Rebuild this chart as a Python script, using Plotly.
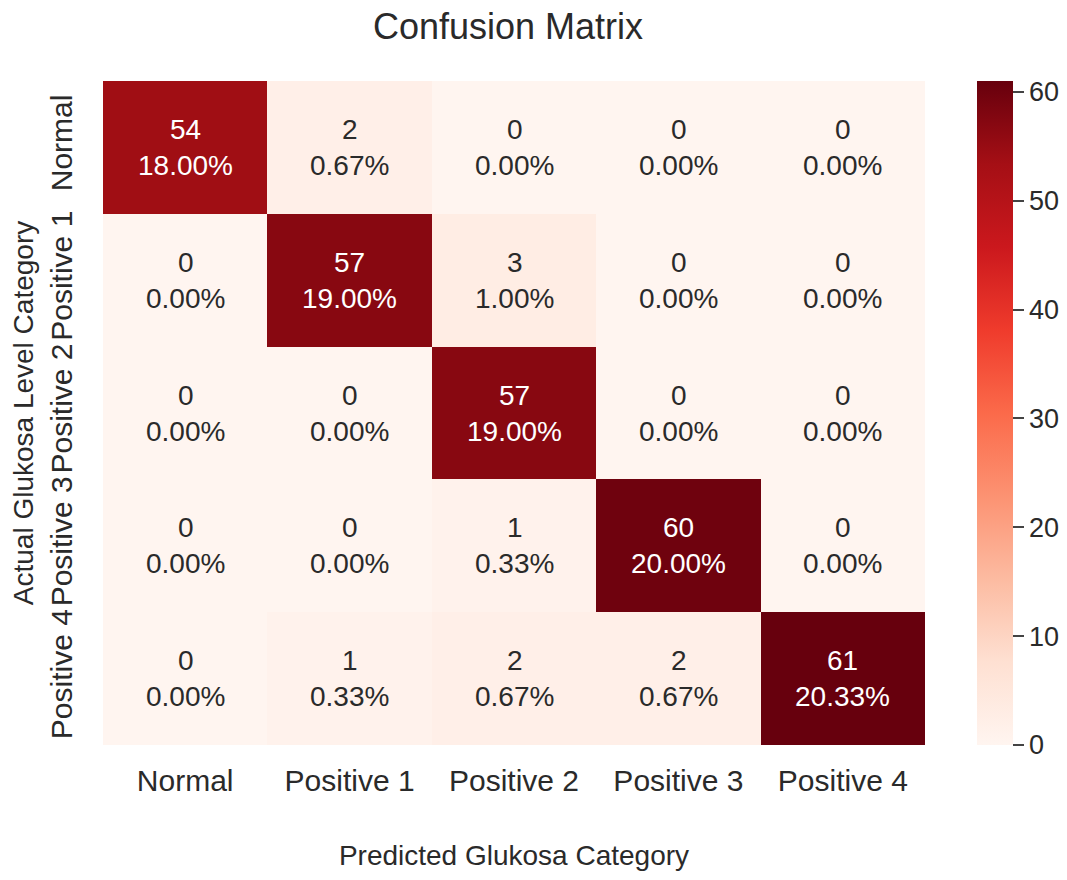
import plotly.graph_objects as go

categories = ["Normal", "Positive 1", "Positive 2", "Positive 3", "Positive 4"]
counts = [
    [54, 2, 0, 0, 0],
    [0, 57, 3, 0, 0],
    [0, 0, 57, 0, 0],
    [0, 0, 1, 60, 0],
    [0, 1, 2, 2, 61],
]
cbar_ticks = [0, 10, 20, 30, 40, 50, 60]

total = sum(sum(r) for r in counts)
reds = [
    [0.0, "rgb(255,245,240)"], [0.125, "rgb(254,224,210)"], [0.25, "rgb(252,187,161)"],
    [0.375, "rgb(252,146,114)"], [0.5, "rgb(251,106,74)"], [0.625, "rgb(239,59,44)"],
    [0.75, "rgb(203,24,29)"], [0.875, "rgb(165,15,21)"], [1.0, "rgb(103,0,13)"],
]
zmax = max(max(r) for r in counts)

W, H = 1067, 880
ML, MR, MT, MB = 95, 150, 73, 143
FONT = "Liberation Sans, Arial, sans-serif"
TXT = "#2a2a2a"
fig = go.Figure(go.Heatmap(
    z=counts, x=categories, y=categories, colorscale=reds, zmin=0, zmax=zmax,
    xgap=0, ygap=0,
    colorbar=dict(thickness=36, len=1.0, lenmode="fraction", y=0.5, yanchor="middle",
                  x=(969 - ML) / (W - ML - MR), xanchor="left", xref="paper",
                  xpad=0, ypad=0, outlinewidth=0,
                  tickvals=cbar_ticks, ticks="outside", ticklen=11, tickwidth=1.5,
                  tickcolor="#444", tickfont=dict(size=27, family=FONT, color=TXT)),
    hoverinfo="skip",
))

for i, row in enumerate(counts):
    for j, v in enumerate(row):
        color = "white" if v > zmax * 0.6 else TXT
        fig.add_annotation(x=categories[j], y=categories[i],
                           text=f"{v}<br>{v / total * 100:.2f}%", showarrow=False,
                           font=dict(size=28, family=FONT, color=color))

fig.update_layout(
    width=W, height=H,
    margin=dict(l=ML, r=MR, t=MT, b=MB),
    paper_bgcolor="white", plot_bgcolor="white",
    title=dict(text="Confusion Matrix", x=500 / W, xanchor="center", y=1.0,
               yanchor="top", yref="container", pad=dict(t=6, b=0),
               font=dict(size=36, family=FONT, color=TXT)),
    font=dict(family=FONT, color=TXT),
)
fig.update_xaxes(title=dict(text="Predicted Glukosa Category", standoff=49,
                            font=dict(size=28, family=FONT, color=TXT)),
                 tickfont=dict(size=30, family=FONT, color=TXT), automargin=False,
                 ticklabelstandoff=15, showgrid=False, zeroline=False, ticks="")
fig.update_yaxes(title=dict(text="Actual Glukosa Level Category", standoff=11,
                            font=dict(size=28, family=FONT, color=TXT)),
                 tickfont=dict(size=30, family=FONT, color=TXT), automargin=False,
                 tickangle=-90, autorange="reversed",
                 ticklabelstandoff=24, showgrid=False, zeroline=False, ticks="")

fig.write_html("out.html")
